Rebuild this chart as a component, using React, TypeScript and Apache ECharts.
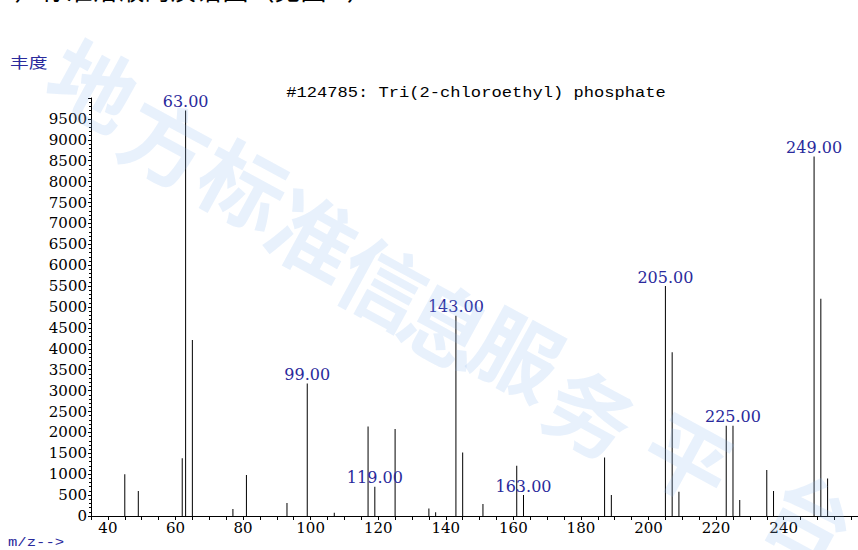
import React, { useEffect, useRef } from "react";
import * as echarts from "echarts";

// m/z values of the peaks and their abundances
const mz = [45, 49, 62, 63, 65, 77, 81, 93, 99, 107, 117, 119, 125, 135, 137, 143, 145, 151, 161, 163, 187, 189, 205, 207, 209, 223, 225, 227, 235, 237, 249, 251, 253];
const intensity = [1000, 600, 1380, 9700, 4210, 170, 980, 310, 3170, 80, 2140, 700, 2080, 180, 90, 4790, 1520, 290, 1200, 500, 1400, 500, 5500, 3920, 580, 2160, 2160, 380, 1100, 600, 8600, 5200, 900];
const labeledPeaks = [63, 99, 119, 143, 163, 205, 225, 249];
const xLabelValues = [40, 60, 80, 100, 120, 140, 160, 180, 200, 220, 240];
const xTickValues = [35, 40, 45, 50, 55, 60, 65, 70, 75, 80, 85, 90, 95, 100, 105, 110, 115, 120, 125, 130, 135, 140, 145, 150, 155, 160, 165, 170, 175, 180, 185, 190, 195, 200, 205, 210, 215, 220, 225, 230, 235, 240, 245, 250, 255, 260];
const chartTitle = "#124785: Tri(2-chloroethyl) phosphate";
const yName = "丰度";
const xName = "m/z-->";
const heading = "2）标准溶液的质谱图（见图 2）";
const watermarkChars = ["地", "方", "标", "准", "信", "息", "服", "务", "平", "台"];
const watermarkPos = [
  [95, 82], [168, 140], [245, 182], [315, 232], [385, 280],
  [448, 322], [520, 350], [592, 410], [690, 455], [812, 515],
];

const BLUE = "#2a2a9c";

export default function App() {
  const ref = useRef<HTMLDivElement>(null);
  useEffect(() => {
    if (!ref.current) return;
    const chart = echarts.init(ref.current, null, { renderer: "svg" });
    const graphics: any[] = [
      {
        type: "text",
        x: 0,
        y: 1,
        style: { text: heading, font: "26px 'Noto Sans CJK SC'", fill: "#000", align: "left", verticalAlign: "bottom" },
      },
      {
        type: "text",
        x: 476,
        y: 93,
        scaleX: 1.14,
        style: { text: chartTitle, font: "15px 'Liberation Mono'", fill: "#000", align: "center", verticalAlign: "middle" },
      },
      {
        type: "text",
        x: 10,
        y: 61,
        scaleX: 1.25,
        style: { text: yName, font: "15px 'Noto Sans CJK SC'", fill: BLUE, align: "left", verticalAlign: "middle" },
      },
      {
        type: "text",
        x: 8,
        y: 542,
        scaleX: 1.2,
        style: { text: xName, font: "13px 'Liberation Mono'", fill: BLUE, align: "left", verticalAlign: "middle" },
      },
    ];
    watermarkChars.forEach((c, i) => {
      graphics.push({
        type: "text",
        x: watermarkPos[i][0],
        y: watermarkPos[i][1],
        rotation: -0.5,
        z: 100,
        silent: true,
        style: {
          text: c,
          font: "bold 86px 'Noto Sans CJK SC'",
          fill: "rgba(140,185,240,0.2)",
          align: "center",
          verticalAlign: "middle",
        },
      });
    });

    chart.setOption({
      animation: false,
      backgroundColor: "#fff",
      grid: { left: 91, right: 0, top: 98, bottom: 34, containLabel: false },
      xAxis: {
        type: "value",
        min: 35,
        max: 262,
        axisLine: { show: true, lineStyle: { color: "#000", width: 1 } },
        axisTick: { show: true, customValues: xTickValues, length: 4, lineStyle: { color: "#000" } },
        axisLabel: {
          customValues: xLabelValues,
          color: "#000",
          fontFamily: "DejaVu Serif",
          fontSize: 15,
          margin: 4,
        },
        splitLine: { show: false },
      },
      yAxis: {
        type: "value",
        min: 0,
        max: 10000,
        interval: 500,
        axisLine: { show: true, lineStyle: { color: "#000", width: 1 } },
        axisTick: { show: true, length: 3, lineStyle: { color: "#000" } },
        minorTick: { show: true, splitNumber: 5, length: 2, lineStyle: { color: "#000" } },
        axisLabel: {
          color: "#000",
          fontFamily: "DejaVu Serif",
          fontSize: 15,
          margin: 4,
          formatter: (v: number) => (v >= 10000 ? "" : String(v)),
        },
        splitLine: { show: false },
      },
      series: [
        {
          type: "bar",
          barWidth: 1,
          itemStyle: { color: "#000" },
          data: mz.map((m, i) => ({
            value: [m, intensity[i]],
            label: { show: labeledPeaks.includes(m) },
          })),
          label: {
            show: false,
            position: "top",
            distance: 1,
            color: BLUE,
            fontFamily: "DejaVu Serif",
            fontSize: 16,
            formatter: (p: any) => Number(p.value[0]).toFixed(2),
          },
        },
      ],
      graphic: graphics,
    });
    return () => chart.dispose();
  }, []);
  return <div ref={ref} style={{ position: "fixed", left: 0, top: 0, width: 858, height: 550 }} />;
}
